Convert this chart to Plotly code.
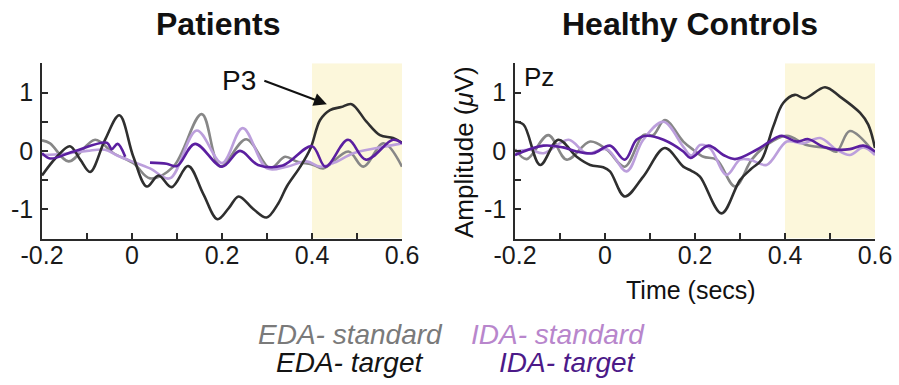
import plotly.graph_objects as go

# ---------------- data ----------------
panel_titles = ["Patients", "Healthy Controls"]
series_names = ["EDA- standard", "IDA- standard", "EDA- target", "IDA- target"]
x_tickvals = [-0.2, -0.1, 0, 0.1, 0.2, 0.3, 0.4, 0.5, 0.6]
x_ticktext = ["-0.2", "", "0", "", "0.2", "", "0.4", "", "0.6"]
y_tickvals = [-1.5, -1, -0.5, 0, 0.5, 1, 1.5]
y_ticktext = ["", "-1", "", "0", "", "1", ""]
p3_window = [0.4, 0.6]

# Patients
pat_eda_std_t = [-0.2, -0.182, -0.141, -0.082, -0.041, 0.003, 0.04, 0.092, 0.155, 0.196, 0.254, 0.307, 0.34, 0.366, 0.403, 0.425, 0.481, 0.514, 0.559, 0.6]
pat_eda_std_v = [0.18, 0.13, -0.18, 0.19, -0.04, -0.21, -0.47, -0.27, 0.63, -0.27, 0.2, -0.3, -0.1, -0.18, -0.24, -0.3, -0.01, -0.27, 0.13, -0.27]

pat_ida_std_t = [-0.2, -0.15, -0.1, -0.06, -0.035, -0.01, 0.04, 0.084, 0.144, 0.2, 0.246, 0.3, 0.344, 0.388, 0.418, 0.45, 0.492, 0.544, 0.6]
pat_ida_std_v = [-0.07, -0.05, 0.0, 0.02, -0.07, -0.15, -0.3, -0.47, 0.35, -0.21, 0.39, -0.3, -0.27, -0.18, -0.27, -0.2, -0.04, 0.05, 0.13]

pat_eda_tgt_t = [-0.2, -0.167, -0.138, -0.115, -0.093, -0.06, -0.028, 0.003, 0.033, 0.059, 0.088, 0.125, 0.158, 0.19, 0.215, 0.237, 0.27, 0.299, 0.325, 0.344, 0.374, 0.397, 0.418, 0.44, 0.465, 0.488, 0.521, 0.551, 0.58, 0.6]
pat_eda_tgt_v = [-0.42, -0.1, 0.08, -0.15, -0.36, 0.19, 0.61, -0.1, -0.61, -0.42, -0.62, -0.26, -0.73, -1.17, -0.98, -0.78, -1.0, -1.14, -0.9, -0.61, -0.27, 0.05, 0.53, 0.70, 0.75, 0.80, 0.5, 0.27, 0.22, 0.14]

pat_ida_tgt_t = [-0.2, -0.182, -0.13, -0.056, -0.045, -0.032, -0.015, None, 0.04, 0.077, 0.1, 0.14, 0.2, 0.24, 0.28, 0.335, 0.4, 0.43, 0.48, 0.52, 0.58, 0.6]
pat_ida_tgt_v = [-0.04, -0.13, -0.01, 0.14, 0.03, 0.12, -0.1, None, -0.2, -0.22, -0.26, 0.12, -0.27, 0.0, -0.24, -0.25, 0.08, -0.27, 0.19, -0.15, 0.19, 0.13]

# Healthy controls
hc_eda_std_t = [-0.2, -0.174, -0.126, -0.085, -0.033, 0.004, 0.044, 0.085, 0.107, 0.133, 0.174, 0.196, 0.219, 0.248, 0.289, 0.326, 0.359, 0.404, 0.448, 0.493, 0.515, 0.544, 0.6]
hc_eda_std_v = [0.03, -0.14, 0.27, -0.15, 0.16, 0.02, -0.27, 0.27, 0.27, 0.53, 0.16, 0.02, -0.1, -0.15, -0.61, -0.15, 0.1, 0.26, 0.1, 0.05, -0.01, 0.34, -0.05]

hc_ida_std_t = [-0.2, -0.167, -0.137, -0.081, -0.041, 0.004, 0.048, 0.085, 0.13, 0.174, 0.192, 0.211, 0.233, 0.27, 0.3, 0.322, 0.359, 0.404, 0.441, 0.478, 0.515, 0.544, 0.574, 0.6]
hc_ida_std_v = [-0.01, 0.02, -0.04, 0.19, -0.04, 0.03, -0.35, 0.19, 0.5, 0.07, -0.08, 0.1, 0.05, -0.41, -0.15, -0.15, -0.24, 0.16, 0.13, 0.22, 0.02, -0.07, 0.06, -0.07]

hc_eda_tgt_t = [-0.2, -0.181, -0.144, -0.104, -0.063, -0.033, -0.004, 0.011, 0.044, 0.085, 0.133, 0.174, 0.192, 0.211, 0.259, 0.3, 0.326, 0.348, 0.374, 0.396, 0.422, 0.444, 0.489, 0.522, 0.567, 0.585, 0.6]
hc_eda_tgt_v = [0.5, 0.45, -0.24, 0.19, -0.1, -0.24, -0.28, -0.35, -0.78, -0.44, 0.05, -0.27, -0.34, -0.44, -1.07, -0.5, -0.3, -0.15, 0.42, 0.82, 0.96, 0.9, 1.09, 0.93, 0.65, 0.45, 0.05]

hc_ida_tgt_t = [-0.2, -0.137, -0.093, -0.063, -0.026, 0.011, 0.044, 0.07, 0.093, 0.13, 0.174, 0.19, 0.23, 0.263, 0.289, 0.337, 0.381, 0.393, 0.426, 0.452, 0.485, 0.515, 0.544, 0.574, 0.6]
hc_ida_tgt_v = [-0.07, 0.09, 0.06, -0.01, -0.04, 0.09, -0.15, 0.19, 0.26, 0.19, -0.01, -0.12, 0.09, -0.07, -0.14, 0.02, 0.23, 0.26, 0.16, 0.2, 0.07, 0.02, 0.03, 0.09, -0.01]

# ---------------- styling ----------------
W, H = 899, 385
line_colors = {"EDA- standard": "#878787", "IDA- standard": "#bc9fdc",
               "EDA- target": "#2f2f2f", "IDA- target": "#5b1fa0"}
text_colors = {"EDA- standard": "#7a7a7a", "IDA- standard": "#b886cc",
               "EDA- target": "#141414", "IDA- target": "#4c1a88"}
FONT = "Liberation Sans, Arial, Helvetica, sans-serif"
AXC = "#2a2a2a"

def px(x):
    return x / W

def py(y):
    return 1 - y / H

fig = go.Figure()

panels = [
    ("x", "y", [(pat_eda_std_t, pat_eda_std_v, "EDA- standard"),
                (pat_ida_std_t, pat_ida_std_v, "IDA- standard"),
                (pat_eda_tgt_t, pat_eda_tgt_v, "EDA- target"),
                (pat_ida_tgt_t, pat_ida_tgt_v, "IDA- target")]),
    ("x2", "y2", [(hc_eda_std_t, hc_eda_std_v, "EDA- standard"),
                  (hc_ida_std_t, hc_ida_std_v, "IDA- standard"),
                  (hc_eda_tgt_t, hc_eda_tgt_v, "EDA- target"),
                  (hc_ida_tgt_t, hc_ida_tgt_v, "IDA- target")]),
]

for xa, ya, series in panels:
    for t, v, name in series:
        fig.add_trace(go.Scatter(
            x=t, y=v, mode="lines", name=name, xaxis=xa, yaxis=ya,
            line=dict(color=line_colors[name], width=2.6, shape="spline", smoothing=1.0),
            connectgaps=False, showlegend=False, hoverinfo="skip"))
    fig.add_shape(type="rect", xref=xa, yref=ya,
                  x0=p3_window[0], x1=p3_window[1], y0=-1.5, y1=1.5,
                  fillcolor="#fcf7db", line=dict(width=0), layer="below")

top_px, bot_px = 63.3, 238.5
ydom = [py(bot_px), py(top_px)]
xdom1 = [px(42), px(402)]
xdom2 = [px(515), px(875)]

axis_common = dict(showgrid=False, zeroline=False, showline=True, linecolor=AXC, linewidth=1.6,
                   ticks="inside", ticklen=6, tickwidth=1.5, tickcolor=AXC, automargin=False,
                   tickfont=dict(family=FONT, size=25, color="#1a1a1a"), mirror=False)

fig.update_layout(
    width=W, height=H, autosize=False,
    margin=dict(l=0, r=0, t=0, b=0),
    plot_bgcolor="white", paper_bgcolor="white",
    xaxis=dict(domain=xdom1, range=[-0.2, 0.6], tickmode="array", tickvals=x_tickvals,
               ticktext=x_ticktext, anchor="y", ticklabelstandoff=-6, **axis_common),
    yaxis=dict(domain=ydom, range=[-1.5, 1.5], tickmode="array", tickvals=y_tickvals,
               ticktext=y_ticktext, anchor="x", ticklabelstandoff=2, **axis_common),
    xaxis2=dict(domain=xdom2, range=[-0.2, 0.6], tickmode="array", tickvals=x_tickvals,
                ticktext=x_ticktext, anchor="y2", ticklabelstandoff=-6, **axis_common),
    yaxis2=dict(domain=ydom, range=[-1.5, 1.5], tickmode="array", tickvals=y_tickvals,
                ticktext=y_ticktext, anchor="x2", ticklabelstandoff=2, **axis_common),
)

ann = []
def text(x, y, s, size, color="#111", bold=False, angle=0):
    ann.append(dict(x=px(x), y=py(y), xref="paper", yref="paper", text=s, showarrow=False,
                    xanchor="center", yanchor="middle", textangle=angle,
                    font=dict(family=FONT, size=size, color=color,
                              weight="bold" if bold else "normal")))

text(218, 24, panel_titles[0], 32, "#111", bold=True)
text(690, 24, panel_titles[1], 32, "#111", bold=True)
text(239, 80, "P3", 28, "#111")
text(539, 77, "Pz", 26, "#111")
text(464, 152, "Amplitude (<i>μ</i>V)", 26, "#111", angle=-90)
text(691, 290, "Time (secs)", 25, "#111")
legend_pos = {"EDA- standard": (350, 334), "IDA- standard": (558, 334),
              "EDA- target": (349, 362), "IDA- target": (567, 362)}
for name in series_names:
    lx, ly = legend_pos[name]
    text(lx, ly, "<i>" + name + "</i>", 28, text_colors[name])

# P3 arrow (head placed in data coordinates of the left panel)
ann.append(dict(x=0.433, y=0.80, xref="x", yref="y", ax=-64, ay=-24, axref="pixel", ayref="pixel",
                showarrow=True, arrowhead=2, arrowsize=1.3, arrowwidth=2, arrowcolor="#111", text=""))

fig.update_layout(annotations=ann)
fig.write_html("out.html")
